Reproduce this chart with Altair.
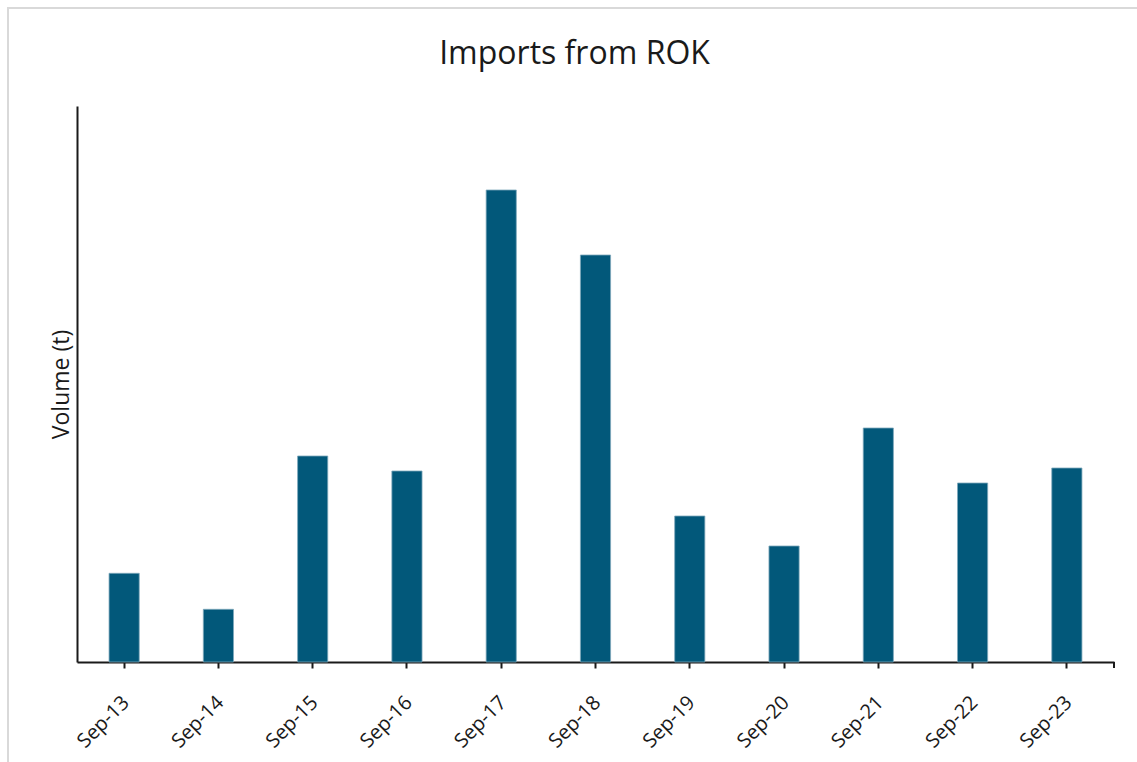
import altair as alt
import pandas as pd

categories = ["Sep-13", "Sep-14", "Sep-15", "Sep-16", "Sep-17", "Sep-18",
              "Sep-19", "Sep-20", "Sep-21", "Sep-22", "Sep-23"]
volumes = [88.7, 52.7, 206, 191, 472, 407, 146, 116, 234, 179, 194]
y_max = 556

df = pd.DataFrame({"month": categories, "volume": volumes})

W, H = 1037, 556
FONT = "Open Sans"

bars = alt.Chart(df).mark_bar(
    color="#02587A", stroke="#7fa8bb", strokeWidth=0.8
).encode(
    x=alt.X("month:N", sort=categories,
            scale=alt.Scale(paddingInner=0.68, paddingOuter=0.34),
            axis=alt.Axis(title=None, labelAngle=-45, labelFont=FONT,
                          labelFontSize=20, labelColor="#1a1a1a",
                          labelPadding=24, labelOffset=-5, tickSize=6,
                          tickWidth=2, tickColor="#1a1a1a",
                          domainColor="#1a1a1a", domainWidth=2, grid=False)),
    y=alt.Y("volume:Q",
            scale=alt.Scale(domain=[0, y_max], nice=False, zero=True),
            axis=alt.Axis(title="Volume (t)", titleFont=FONT,
                          titleFontSize=23, titleFontWeight="normal",
                          titleColor="#1a1a1a", titlePadding=4,
                          labels=False, ticks=False, grid=False,
                          domainColor="#1a1a1a", domainWidth=2)),
)

# tick at the right end of the category axis (Excel style)
end_tick = alt.Chart(df).mark_rule(color="#1a1a1a", strokeWidth=2).encode(
    x=alt.value(W), y=alt.value(H), y2=alt.value(H + 6)
)

# light frame (left and top edges visible in the reference)
frame_left = alt.Chart(df).mark_rule(color="#D9D9D9", strokeWidth=2).encode(
    x=alt.value(-69), y=alt.value(-98), y2=alt.value(H + 120)
)
frame_top = alt.Chart(df).mark_rule(color="#D9D9D9", strokeWidth=2).encode(
    x=alt.value(-70), x2=alt.value(W + 80), y=alt.value(-98)
)

chart = alt.layer(bars, end_tick, frame_left, frame_top).properties(
    width=W, height=H,
    background="white",
    title=alt.TitleParams("Imports from ROK", font=FONT, fontSize=32,
                          fontWeight="normal", color="#1a1a1a",
                          anchor="middle", dx=-21, baseline="alphabetic",
                          offset=-89),
    autosize=alt.AutoSizeParams(type="none"),
    padding={"left": 77, "top": 106, "right": 23, "bottom": 100},
).configure_view(strokeWidth=0, stroke="transparent")

chart.save("out.html", embed_options={"renderer": "svg", "actions": False})
